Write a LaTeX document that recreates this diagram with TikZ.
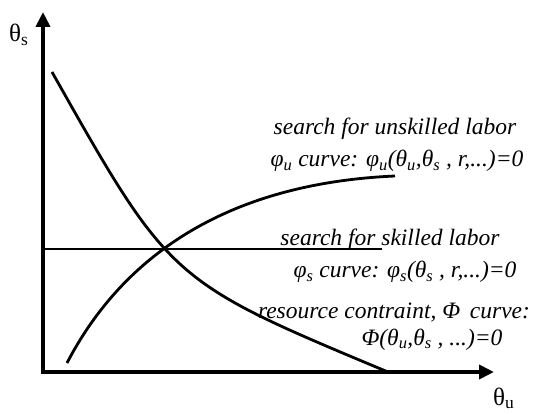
\documentclass[tikz,border=0pt]{standalone}
\usepackage{fontspec}
\setmainfont{Liberation Serif}
\usetikzlibrary{arrows.meta}
\newcommand{\sbx}[1]{\textsubscript{#1}}
\begin{document}
\begin{tikzpicture}[x=1pt,y=-1pt,
  axis/.style={line width=4pt, {Triangle[width=14pt,length=15pt]}-{Triangle[width=14pt,length=15pt]}},
  crv/.style={line width=2.8pt},
  lbl/.style={inner sep=0pt, anchor=base, font=\fontsize{23.5}{27}\selectfont\itshape},
  axlbl/.style={inner sep=0pt, anchor=base west, font=\fontsize{25}{28}\selectfont}]
\useasboundingbox (0,0) rectangle (533,414);
% axes
\coordinate (O) at (43,372);
\coordinate (ytip) at (43,12);
\coordinate (xtip) at (494,372);
\draw[axis] (ytip) -- (O) -- (xtip);
\node[axlbl] (ts) at (9,42) {θ\sbx{s}};
\node[axlbl] (tu) at (493,405) {θ\sbx{u}};
% curves
\coordinate (phiA) at (52,72);
\coordinate (phiB) at (388,372);
\draw[crv] (phiA) .. controls (170,281) and (170,281) .. (phiB);
\coordinate (uA) at (67,363);
\coordinate (uB) at (395,176);
\draw[crv] (uA) .. controls (105,290) and (190,185) .. (uB);
\coordinate (sA) at (43,249);
\coordinate (sB) at (382,249);
\draw[crv] (sA) -- (sB);
% labels
\node[lbl] (l1) at (395,135) {search for unskilled labor};
\node[lbl] (l2) at (397,167) {φ\sbx{u} curve: φ\sbx{u}(θ\sbx{u},θ\sbx{s} , r,...)=0};
\node[lbl] (l3) at (390,246) {search for skilled labor};
\node[lbl] (l4) at (405,278) {φ\sbx{s} curve: φ\sbx{s}(θ\sbx{s} , r,...)=0};
\node[lbl] (l5) at (394,318) {resource contraint, Φ\, curve:};
\node[lbl] (l6) at (432,345) {Φ(θ\sbx{u},θ\sbx{s} , ...)=0};
\end{tikzpicture}
\end{document}
